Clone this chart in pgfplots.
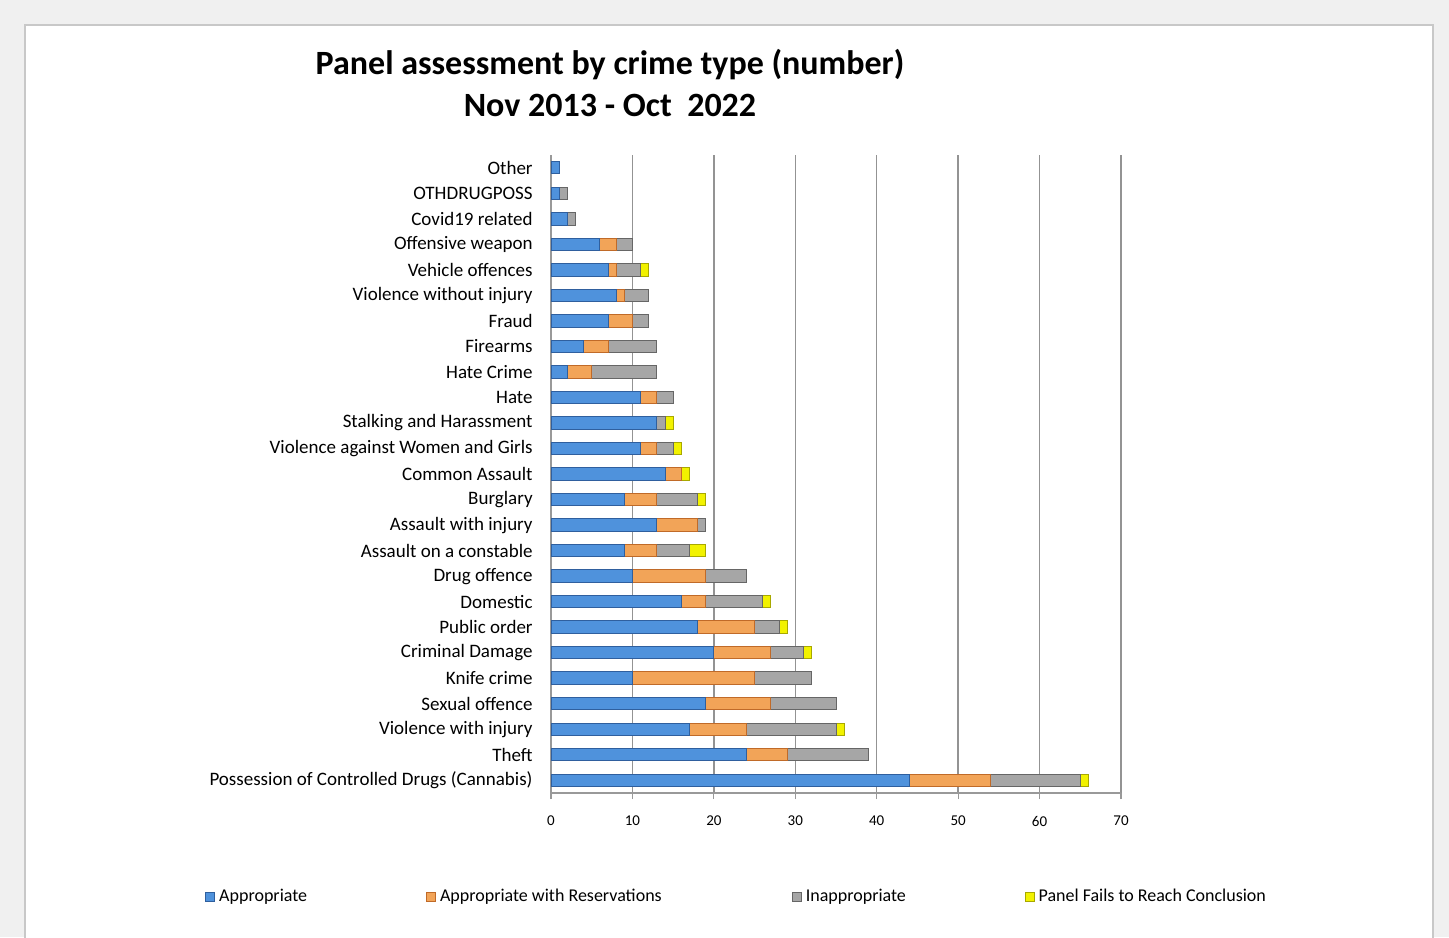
\documentclass[border=0pt]{standalone}
\usepackage{pgfplots}
\pgfplotsset{compat=1.18}
\usepackage{pgfplotstable}
\usepackage{fontspec}
\setmainfont{Carlito}
\definecolor{appr}{HTML}{4F92DC}
\definecolor{apprD}{HTML}{2F5F9E}
\definecolor{resv}{HTML}{F2A458}
\definecolor{resvD}{HTML}{C06A28}
\definecolor{inap}{HTML}{A6A6A6}
\definecolor{inapD}{HTML}{666666}
\definecolor{fail}{HTML}{F2F200}
\definecolor{failD}{HTML}{A8A800}
\definecolor{frame}{HTML}{C8C8C8}
\definecolor{outside}{HTML}{F0F0F0}

% y: 0 = bottom category
\pgfplotstableread{
y  a  r  i  p
0  44 10 11 1
1  24 5  10 0
2  17 7  11 1
3  19 8  8  0
4  10 15 7  0
5  20 7  4  1
6  18 7  3  1
7  16 3  7  1
8  10 9  5  0
9  9  4  4  2
10 13 5  1  0
11 9  4  5  1
12 14 2  0  1
13 11 2  2  1
14 13 0  1  1
15 11 2  2  0
16 2  3  8  0
17 4  3  6  0
18 7  3  2  0
19 8  1  3  0
20 7  1  3  1
21 6  2  2  0
22 2  0  1  0
23 1  0  1  0
24 1  0  0  0
}\crimes

\begin{document}
\begin{tikzpicture}
\fill[outside] (0,0) rectangle (724.5pt,468.5pt);
\path[use as bounding box] (0,0) rectangle (724.5pt,468.5pt);
\filldraw[fill=white, draw=frame, line width=0.8pt] (12.5pt,-2pt) rectangle (716.5pt,456pt);
\node[align=center, font=\fontsize{17}{21}\selectfont\bfseries] at (305pt,427pt)
  {Panel assessment by crime type (number)\\Nov 2013 - Oct~~2022};
\begin{axis}[
  at={(275.5pt,72pt)}, anchor=south west,
  scale only axis, width=285pt, height=319pt,
  xbar stacked, bar width=6.2pt,
  xmin=0, xmax=70, ymin=-0.5, ymax=24.5,
  xtick={0,10,...,70},
  ytick={0,...,24},
  yticklabels={Possession of Controlled Drugs (Cannabis), Theft, Violence with injury,
    Sexual offence, Knife crime, Criminal Damage, Public order, Domestic, Drug offence,
    Assault on a constable, Assault with injury, Burglary, Common Assault,
    Violence against Women and Girls, Stalking and Harassment, Hate, Hate Crime,
    Firearms, Fraud, Violence without injury, Vehicle offences, Offensive weapon,
    Covid19 related, OTHDRUGPOSS, Other},
  minor ytick={-0.5,0.5,...,24.5},
  axis x line*=bottom, axis y line*=left,
  axis line style={draw=gray!80, line width=0.6pt},
  xmajorgrids, grid style={gray!85, line width=0.7pt},
  tick align=outside,
  ytick style={draw=none},
  minor tick length=3pt,
  minor tick style={draw=gray!80, line width=0.6pt},
  xtick style={draw=gray!80, line width=0.6pt},
  major tick length=3pt,
  yticklabel style={font=\fontsize{9.5}{11}\selectfont, inner sep=0pt, xshift=-6pt},
  xticklabel style={font=\fontsize{7.5}{9}\selectfont, yshift=-5pt},
  /pgf/number format/assume math mode=true,
  legend style={at={(-0.607,-0.163)}, anchor=west, draw=none, fill=none,
    legend columns=4, font=\fontsize{9}{10}\selectfont, inner sep=0pt,
    /tikz/every even column/.append style={column sep=0pt}},
  legend image code/.code={\filldraw[#1] (0pt,-2.2pt) rectangle (4.4pt,2.2pt);},
]
\addplot[fill=appr, draw=apprD, line width=0.5pt] table[x=a, y=y] {\crimes};
\addplot[fill=resv, draw=resvD, line width=0.5pt] table[x=r, y=y] {\crimes};
\addplot[fill=inap, draw=inapD, line width=0.5pt] table[x=i, y=y] {\crimes};
\addplot[fill=fail, draw=failD, line width=0.5pt] table[x=p, y=y] {\crimes};
\addlegendentry{\makebox[101.5pt][l]{Appropriate}}
\addlegendentry{\makebox[174pt][l]{Appropriate with Reservations}}
\addlegendentry{\makebox[107.5pt][l]{Inappropriate}}
\addlegendentry{Panel Fails to Reach Conclusion}
\end{axis}
\end{tikzpicture}
\end{document}
